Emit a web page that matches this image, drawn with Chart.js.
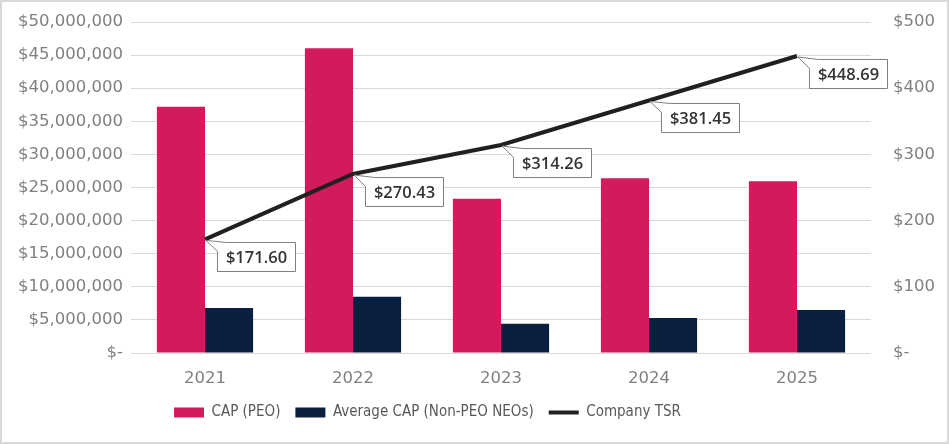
<!DOCTYPE html>
<html>
<head>
<meta charset="utf-8">
<script src="https://cdn.jsdelivr.net/npm/chart.js@4/dist/chart.umd.min.js"></script>
<style>
  html, body { margin: 0; padding: 0; background: #ffffff; }
  #wrap { width: 949px; height: 444px; position: relative; }
</style>
</head>
<body>
<div id="wrap"><canvas id="c" width="949" height="444"></canvas></div>
<script>
const years = ['2021', '2022', '2023', '2024', '2025'];
const capPEO = [37200000, 46050000, 23300000, 26400000, 25950000];
const capNonPEO = [6800000, 8500000, 4400000, 5300000, 6500000];
const companyTSR = [171.60, 270.43, 314.26, 381.45, 448.69];
const tsrLabels = ['$171.60', '$270.43', '$314.26', '$381.45', '$448.69'];
const leftTicks = { min: 0, max: 50000000, step: 5000000 };
const rightTicks = { min: 0, max: 500, step: 100 };

const GRID = '#d9d9d9';
const TICK = '#808080';

const borderPlugin = {
  id: 'outerBorder',
  beforeDraw(chart) {
    const ctx = chart.ctx;
    ctx.save();
    ctx.fillStyle = '#ffffff';
    ctx.fillRect(0, 0, chart.width, chart.height);
    ctx.strokeStyle = '#d9d9d9';
    ctx.lineWidth = 2;
    ctx.strokeRect(1, 1, chart.width - 2, chart.height - 2);
    ctx.restore();
  }
};

const legendShift = {
  id: 'legendShift',
  afterLayout(chart) {
    const lg = chart.legend;
    if (!lg) return;
    const pad = lg.options.labels.padding;
    const w = lg.right - lg.left;
    lg.left = 174 - pad;
    lg.right = lg.left + w;
    const target = 413;
    const cur = lg.top + pad + 8;
    const dy = target - cur;
    lg.top += dy;
    lg.bottom += dy;
  }
};

const calloutPlugin = {
  id: 'callouts',
  afterDatasetsDraw(chart) {
    const meta = chart.getDatasetMeta(2);
    const ctx = chart.ctx;
    ctx.save();
    ctx.font = '600 16.5px "Open Sans", sans-serif';
    meta.data.forEach((pt, i) => {
      const label = tsrLabels[i];
      const tw = ctx.measureText(label).width;
      const w = Math.round(tw + 17);
      const h = 29;
      const bx = Math.round(pt.x + 12) + 0.5;
      const by = Math.round(pt.y + 3) + 0.5;
      ctx.beginPath();
      ctx.moveTo(bx + 9, by);
      ctx.lineTo(bx + w, by);
      ctx.lineTo(bx + w, by + h);
      ctx.lineTo(bx, by + h);
      ctx.lineTo(bx, by + 9);
      ctx.lineTo(pt.x + 1, pt.y + 1);
      ctx.closePath();
      ctx.fillStyle = '#ffffff';
      ctx.fill();
      ctx.strokeStyle = '#7f7f7f';
      ctx.lineWidth = 1;
      ctx.stroke();
      ctx.fillStyle = '#333333';
      ctx.textAlign = 'center';
      ctx.textBaseline = 'middle';
      ctx.fillText(label, bx + w / 2, by + h / 2 + 1);
    });
    ctx.restore();
  }
};

function noVPad(scale) {
  scale.paddingTop = 0;
  scale.paddingBottom = 0;
}

new Chart(document.getElementById('c'), {
  type: 'bar',
  data: {
    labels: years,
    datasets: [
      {
        label: 'CAP (PEO)',
        data: capPEO,
        backgroundColor: '#d31a5c',
        borderWidth: 0,
        yAxisID: 'y',
        order: 2,
        pointStyle: 'rect',
        barPercentage: 1,
        categoryPercentage: 0.65
      },
      {
        label: 'Average CAP (Non-PEO NEOs)',
        data: capNonPEO,
        backgroundColor: '#0b1f41',
        borderWidth: 0,
        yAxisID: 'y',
        order: 2,
        pointStyle: 'rect',
        barPercentage: 1,
        categoryPercentage: 0.65
      },
      {
        type: 'line',
        label: 'Company TSR',
        data: companyTSR,
        borderColor: '#231f20',
        backgroundColor: '#231f20',
        borderWidth: 4,
        pointRadius: 0,
        pointHoverRadius: 0,
        tension: 0,
        yAxisID: 'y1',
        order: 0,
        pointStyle: 'line'
      }
    ]
  },
  options: {
    responsive: false,
    animation: false,
    devicePixelRatio: 1,
    layout: { padding: { top: 22, left: 0, right: 0, bottom: 0 } },
    plugins: {
      tooltip: { enabled: false },
      legend: {
        position: 'bottom',
        align: 'start',
        labels: {
          usePointStyle: true,
          pointStyleWidth: 30,
          boxHeight: 10,
          padding: 15,
          color: '#595959',
          sort: (a, b) => a.datasetIndex - b.datasetIndex,
          font: { family: '"DejaVu Sans Condensed", "DejaVu Sans", sans-serif', size: 15 }
        }
      }
    },
    scales: {
      x: {
        grid: { display: false, drawTicks: false },
        border: { display: false },
        ticks: {
          color: TICK,
          padding: 16,
          font: { family: '"DejaVu Sans", Verdana, sans-serif', size: 16.5 }
        },
        afterFit(scale) { scale.height = 51; }
      },
      y: {
        position: 'left',
        min: leftTicks.min,
        max: leftTicks.max,
        grid: { color: GRID, lineWidth: 1, drawTicks: false },
        border: { display: false },
        ticks: {
          stepSize: leftTicks.step,
          color: TICK,
          padding: 8,
          font: { family: '"DejaVu Sans", Verdana, sans-serif', size: 16.5 },
          callback: (v) => v === 0 ? '$-' : '$' + Number(v).toLocaleString('en-US')
        },
        afterFit(scale) { scale.width = 131; noVPad(scale); }
      },
      y1: {
        position: 'right',
        min: rightTicks.min,
        max: rightTicks.max,
        grid: { display: false, drawTicks: false },
        border: { display: false },
        ticks: {
          stepSize: rightTicks.step,
          color: TICK,
          padding: 22,
          font: { family: '"DejaVu Sans", Verdana, sans-serif', size: 16.5 },
          callback: (v) => v === 0 ? '$-' : '$' + v
        },
        afterFit(scale) { scale.width = 78; noVPad(scale); }
      }
    }
  },
  plugins: [borderPlugin, legendShift, calloutPlugin]
});
</script>
</body>
</html>
